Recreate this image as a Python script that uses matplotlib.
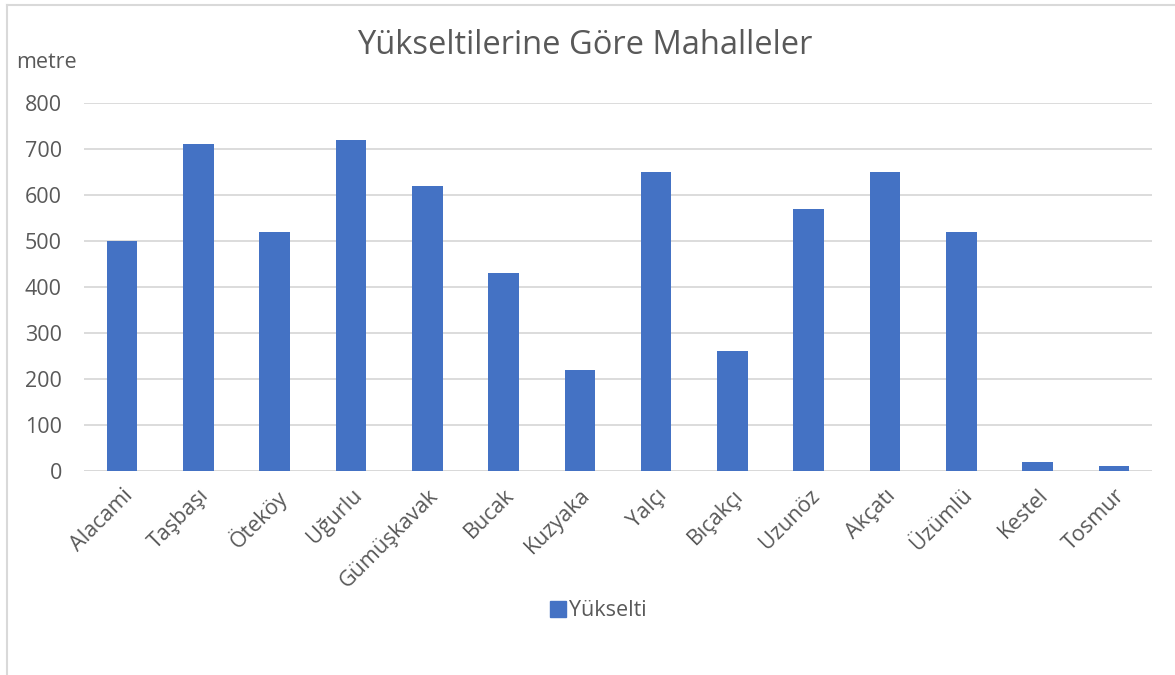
import matplotlib
matplotlib.use("Agg")
import matplotlib.pyplot as plt
from matplotlib.lines import Line2D
from matplotlib.transforms import ScaledTranslation

categories = ["Alacami", "Taşbaşı", "Öteköy", "Uğurlu", "Gümüşkavak", "Bucak", "Kuzyaka",
              "Yalçı", "Bıçakçı", "Uzunöz", "Akçatı", "Üzümlü", "Kestel", "Tosmur"]
values = [500, 710, 520, 720, 620, 430, 220, 650, 260, 570, 650, 520, 20, 10]
yticks = [0, 100, 200, 300, 400, 500, 600, 700, 800]
series_name = "Yükselti"
title = "Yükseltilerine Göre Mahalleler"
ylabel = "metre"

plt.rcParams['font.family'] = ['Open Sans', 'DejaVu Sans']
txt = '#595959'
bar_color = '#4472C4'
grid = '#d9d9d9'

W, H = 1175, 675
fig = plt.figure(figsize=(W/100, H/100), dpi=100)
ax = fig.add_axes([84/W, 1-471/H, (1152-84)/W, (471-103)/H])

x = list(range(len(categories)))
ax.bar(x, values, width=0.4, color=bar_color, zorder=3, label=series_name)
ax.set_xlim(-0.5, len(categories)-0.5)
ax.set_ylim(0, 800)
ax.set_yticks(yticks)
ax.set_yticklabels([str(v) for v in yticks], fontsize=15.5, color=txt)
ax.set_xticks(x)
ax.set_xticklabels(categories, rotation=45, ha='right', rotation_mode='anchor',
                   fontsize=15.5, color=txt)
offset = ScaledTranslation(8/72, 0, fig.dpi_scale_trans)
for lab in ax.get_xticklabels():
    lab.set_transform(lab.get_transform() + offset)
ax.tick_params(axis='both', length=0)
ax.tick_params(axis='y', pad=16)
ax.tick_params(axis='x', pad=10)
ax.yaxis.grid(True, color=grid, linewidth=1.3, zorder=0)
for s in ax.spines.values():
    s.set_visible(False)
ax.axhline(0, color=grid, linewidth=1.3, zorder=2)

fig.text(585/W, 1-46/H, title, ha='center', va='center', fontsize=23.5, color=txt)
fig.text(16/W, 1-62/H, ylabel, ha='left', va='center', fontsize=15.5, color=txt)

handle = Line2D([], [], marker='s', linestyle='none', markersize=11,
                markerfacecolor=bar_color, markeredgecolor=bar_color)
fig.legend([handle], [series_name], loc='center', bbox_to_anchor=(597/W, 1-611/H),
           frameon=False, fontsize=15.5, labelcolor=txt, handletextpad=0.0,
           handlelength=1.0)

# chart border
fig.add_artist(Line2D([7/W, 7/W], [0, 1-5/H], color=grid, linewidth=1.5, transform=fig.transFigure))
fig.add_artist(Line2D([7/W, 1], [1-5/H, 1-5/H], color=grid, linewidth=1.5, transform=fig.transFigure))

fig.savefig("out.png", dpi=100)
